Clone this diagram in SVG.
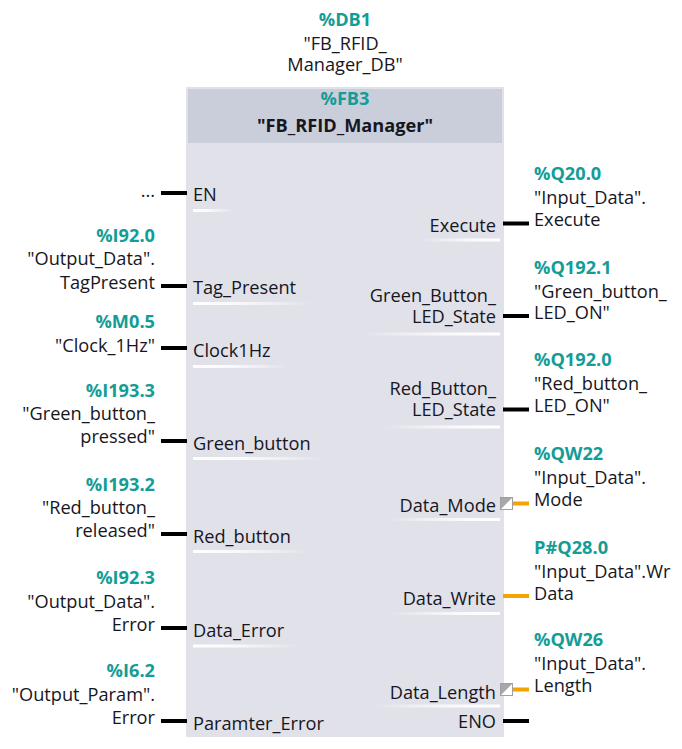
<svg xmlns="http://www.w3.org/2000/svg" width="682" height="749" viewBox="0 0 682 749">
<style>
text{font-family:"Open Sans","Noto Sans","DejaVu Sans",sans-serif;font-size:18.2px;fill:#16161e}
.a{font-weight:bold;fill:#149c96}
.b{font-weight:bold}
.e{text-anchor:end}
.m{text-anchor:middle}
.w{stroke:#000;stroke-width:4}
.o{stroke:#f5a300;stroke-width:4}
.ul{fill:url(#gl)}
.ur{fill:url(#gr)}
</style>
<defs>
<linearGradient id="gl" x1="0" x2="1" y1="0" y2="0"><stop offset="0" stop-color="#fff"/><stop offset="0.4" stop-color="#fff" stop-opacity="0.8"/><stop offset="1" stop-color="#fff" stop-opacity="0"/></linearGradient>
<linearGradient id="gr" x1="0" x2="1" y1="0" y2="0"><stop offset="0" stop-color="#fff" stop-opacity="0"/><stop offset="0.6" stop-color="#fff" stop-opacity="0.8"/><stop offset="1" stop-color="#fff"/></linearGradient>
<g id="ico"><rect x="0.5" y="0.5" width="12" height="12" fill="#fff" stroke="#a0a0a0"/><path d="M1 1H12L1 12Z" fill="#a8a8a8"/></g>
</defs>
<rect width="682" height="749" fill="#fff"/>

<g id="instance">
<text class="a m" x="345" y="26">%DB1</text>
<text class="m" x="345" y="49.5">"FB_RFID_</text>
<text class="m" x="345" y="71">Manager_DB"</text>
</g>

<g id="block">
<rect x="186" y="87" width="318" height="650" fill="#e1e1ea"/>
<rect x="188" y="89" width="314" height="54" fill="#cacdda"/>
<text class="a m" x="345" y="105">%FB3</text>
<text class="b m" x="345" y="132" font-size="19">"FB_RFID_Manager"</text>
</g>

<g id="connectors">
<line class="w" x1="161" y1="193" x2="187" y2="193"/>
<line class="w" x1="161" y1="286" x2="187" y2="286"/>
<line class="w" x1="161" y1="348" x2="187" y2="348"/>
<line class="w" x1="161" y1="441" x2="187" y2="441"/>
<line class="w" x1="161" y1="534" x2="187" y2="534"/>
<line class="w" x1="161" y1="628" x2="187" y2="628"/>
<line class="w" x1="161" y1="721" x2="187" y2="721"/>
<line class="w" x1="503" y1="223.5" x2="529" y2="223.5"/>
<line class="w" x1="503" y1="316" x2="529" y2="316"/>
<line class="w" x1="503" y1="409.5" x2="529" y2="409.5"/>
<line class="o" x1="512" y1="503.5" x2="529" y2="503.5"/>
<line class="o" x1="503" y1="596" x2="529" y2="596"/>
<line class="o" x1="512" y1="689.5" x2="529" y2="689.5"/>
<line class="w" x1="503" y1="721" x2="529" y2="721"/>
</g>

<g id="pin_EN">
<text class="e" x="155" y="197">...</text>
<text x="193" y="200.5">EN</text>
<rect class="ul" x="193" y="209" width="40" height="3"/>
</g>
<g id="pin_Tag_Present">
<text class="a e" x="155" y="242">%I92.0</text>
<text class="e" x="155" y="265">"Output_Data".</text>
<text class="e" x="155" y="288.5">TagPresent</text>
<text x="193" y="294">Tag_Present</text>
<rect class="ul" x="193" y="302" width="120" height="3"/>
</g>
<g id="pin_Clock1Hz">
<text class="a e" x="155" y="327.5">%M0.5</text>
<text class="e" x="155" y="351.5">"Clock_1Hz"</text>
<text x="193" y="357">Clock1Hz</text>
<rect class="ul" x="193" y="365" width="97" height="3"/>
</g>
<g id="pin_Green_button">
<text class="a e" x="155" y="397">%I193.3</text>
<text class="e" x="155" y="420">"Green_button_</text>
<text class="e" x="155" y="443">pressed"</text>
<text x="193" y="450">Green_button</text>
<rect class="ul" x="193" y="457" width="135" height="3"/>
</g>
<g id="pin_Red_button">
<text class="a e" x="155" y="490.5">%I193.2</text>
<text class="e" x="155" y="514">"Red_button_</text>
<text class="e" x="155" y="537">released"</text>
<text x="193" y="543">Red_button</text>
<rect class="ul" x="193" y="550" width="117" height="3"/>
</g>
<g id="pin_Data_Error">
<text class="a e" x="155" y="584">%I92.3</text>
<text class="e" x="155" y="607.5">"Output_Data".</text>
<text class="e" x="155" y="630.5">Error</text>
<text x="193" y="636.5">Data_Error</text>
<rect class="ul" x="193" y="644.5" width="107" height="3"/>
</g>
<g id="pin_Paramter_Error">
<text class="a e" x="155" y="677">%I6.2</text>
<text class="e" x="155" y="700.5">"Output_Param".</text>
<text class="e" x="155" y="723.5">Error</text>
<text x="193" y="729.5">Paramter_Error</text>
</g>

<g id="pin_Execute">
<text class="e" x="496" y="231.5">Execute</text>
<rect class="ur" x="420" y="238.5" width="80" height="3"/>
<text class="a" x="534" y="179.5">%Q20.0</text>
<text x="534" y="203.5">"Input_Data".</text>
<text x="534" y="226">Execute</text>
</g>
<g id="pin_Green_Button_LED_State">
<text class="e" x="496" y="301.5">Green_Button_</text>
<text class="e" x="496" y="323">LED_State</text>
<rect class="ur" x="360" y="332.5" width="140" height="3"/>
<text class="a" x="534" y="273.5">%Q192.1</text>
<text x="534" y="297.5">"Green_button_</text>
<text x="534" y="318.5">LED_ON"</text>
</g>
<g id="pin_Red_Button_LED_State">
<text class="e" x="496" y="394.5">Red_Button_</text>
<text class="e" x="496" y="416">LED_State</text>
<rect class="ur" x="383" y="425.5" width="117" height="3"/>
<text class="a" x="534" y="366">%Q192.0</text>
<text x="534" y="390">"Red_button_</text>
<text x="534" y="412">LED_ON"</text>
</g>
<g id="pin_Data_Mode">
<text class="e" x="496" y="512">Data_Mode</text>
<use href="#ico" x="500" y="497"/>
<rect class="ur" x="387" y="518" width="113" height="3"/>
<text class="a" x="534" y="459.5">%QW22</text>
<text x="534" y="483.5">"Input_Data".</text>
<text x="534" y="506">Mode</text>
</g>
<g id="pin_Data_Write">
<text class="e" x="496" y="605">Data_Write</text>
<rect class="ur" x="390" y="612" width="110" height="3"/>
<text class="a" x="534" y="553.5">P#Q28.0</text>
<text x="534" y="577.5">"Input_Data".Wr</text>
<text x="534" y="600">Data</text>
</g>
<g id="pin_Data_Length">
<text class="e" x="496" y="698.5">Data_Length</text>
<use href="#ico" x="500" y="683"/>
<rect class="ur" x="373" y="704.5" width="127" height="3"/>
<text class="a" x="534" y="645.5">%QW26</text>
<text x="534" y="669.5">"Input_Data".</text>
<text x="534" y="691.5">Length</text>
</g>
<g id="pin_ENO">
<text class="e" x="496" y="728">ENO</text>
</g>
</svg>
